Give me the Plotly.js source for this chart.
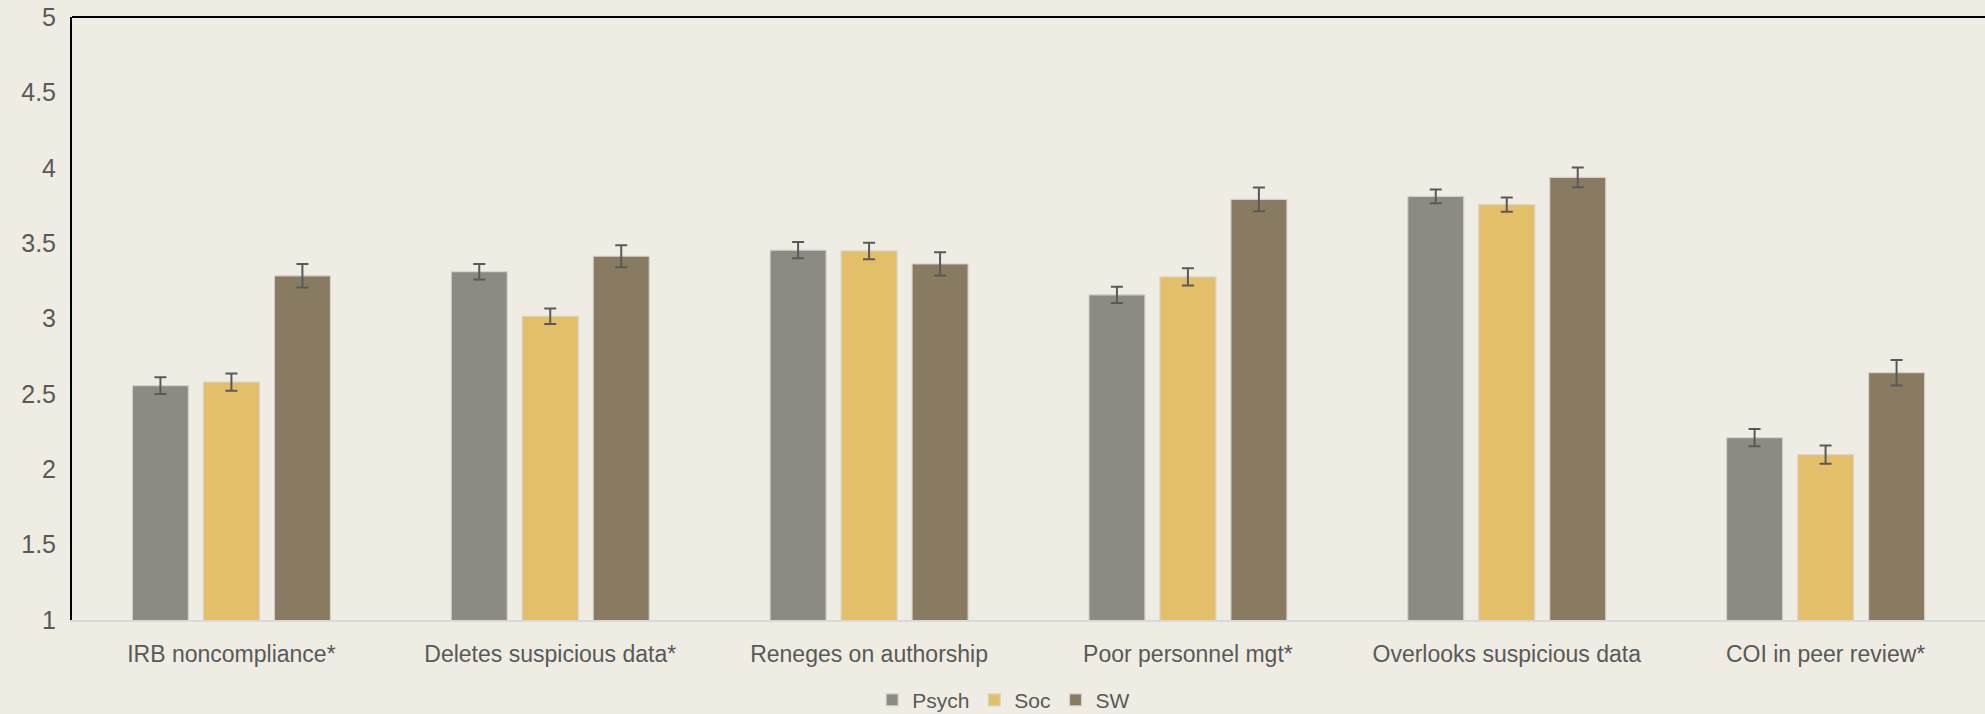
<!DOCTYPE html>
<html>
<head>
<meta charset="utf-8">
<script src="https://cdn.plot.ly/plotly-3.0.1.min.js"></script>
<style>
html,body{margin:0;padding:0;background:#efece4;}
#chart{width:1985px;height:714px;}
</style>
</head>
<body>
<div id="chart"></div>
<script>
const categories = ["IRB noncompliance*", "Deletes suspicious data*", "Reneges on authorship", "Poor personnel mgt*", "Overlooks suspicious data", "COI in peer review*"];
const seriesNames = ["Psych", "Soc", "SW"];
const psych = [2.555, 3.31, 3.453, 3.157, 3.81, 2.21];
const soc = [2.578, 3.015, 3.448, 3.276, 3.755, 2.097];
const sw = [3.283, 3.413, 3.362, 3.79, 3.936, 2.64];
const psychErr = [0.056, 0.051, 0.054, 0.054, 0.046, 0.057];
const socErr = [0.057, 0.051, 0.055, 0.057, 0.047, 0.061];
const swErr = [0.078, 0.073, 0.077, 0.079, 0.066, 0.085];
const yTicks = [1, 1.5, 2, 2.5, 3, 3.5, 4, 4.5, 5];
const yTickLabels = ["1", "1.5", "2", "2.5", "3", "3.5", "4", "4.5", "5"];

const colors = ["#8b8b84", "#e4bf6a", "#897b61"];
const values = [psych, soc, sw];
const errs = [psychErr, socErr, swErr];

const traces = seriesNames.map((name, i) => ({
  type: "bar",
  name: name,
  x: categories,
  y: values[i],
  marker: {color: colors[i], line: {color: "rgba(215,212,205,0.9)", width: 1.2}},
  error_y: {type: "data", array: errs[i], visible: true, color: "#595959", thickness: 2, width: 6},
  hoverinfo: "skip"
}));

const font = "'Liberation Sans', Arial, sans-serif";

const layout = {
  width: 1985,
  height: 714,
  paper_bgcolor: "#efece4",
  plot_bgcolor: "#efece4",
  margin: {l: 72, r: 0, t: 17, b: 94, autoexpand: false},
  barmode: "group",
  bargap: 0.332,
  bargroupgap: 0.211,
  showlegend: true,
  legend: {
    orientation: "h",
    x: 0.487, xanchor: "center",
    y: -0.133, yanchor: "middle",
    font: {family: font, size: 21, color: "#595959"},
    itemwidth: 30,
    traceorder: "normal"
  },
  xaxis: {
    showgrid: false,
    zeroline: false,
    showline: true,
    linecolor: "#d9d9d9",
    linewidth: 2,
    ticks: "outside",
    ticklen: 12,
    tickcolor: "rgba(0,0,0,0)",
    tickfont: {family: font, size: 23, color: "#595959"},
    fixedrange: true
  },
  yaxis: {
    range: [1, 5],
    tickvals: yTicks,
    ticktext: yTickLabels,
    showgrid: false,
    zeroline: false,
    showline: true,
    linecolor: "#000000",
    linewidth: 2,
    ticks: "outside",
    ticklen: 9,
    tickcolor: "rgba(0,0,0,0)",
    tickfont: {family: font, size: 25, color: "#595959"},
    fixedrange: true
  },
  shapes: [{
    type: "line", xref: "paper", yref: "paper",
    x0: 0, x1: 1, y0: 1, y1: 1,
    line: {color: "#000000", width: 2}
  }]
};

Plotly.newPlot("chart", traces, layout, {displayModeBar: false, staticPlot: true});
</script>
</body>
</html>
